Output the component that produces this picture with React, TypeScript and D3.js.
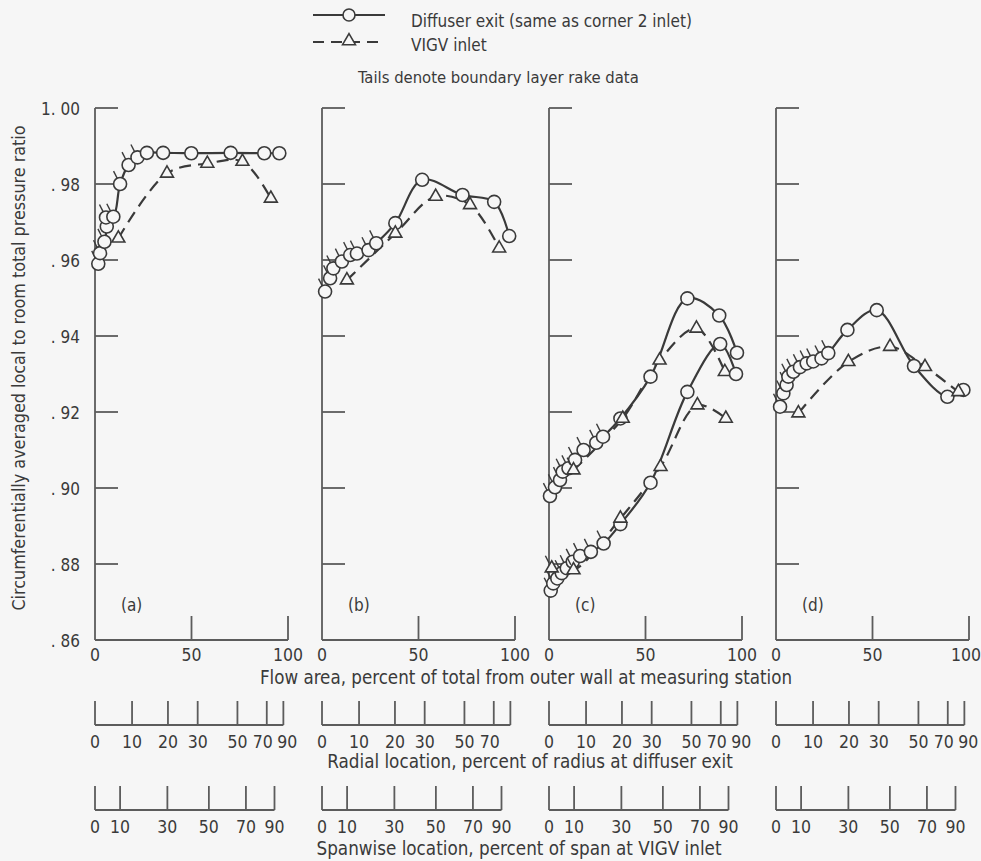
import * as d3 from 'd3';

const panelNames = ['(a)', '(b)', '(c)', '(d)'];

const yTicks = [1.0, 0.98, 0.96, 0.94, 0.92, 0.9, 0.88, 0.86];
const yTickLabels = ['1. 00', '. 98', '. 96', '. 94', '. 92', '. 90', '. 88', '. 86'];
const flowTicks = [0, 50, 100];

// secondary scales, placed at their flow-area percent
const radialTicks = [0, 19.2, 37.8, 53.2, 73.8, 89, 97.6];
const radialLabels = ['0', '10', '20', '30', '50', '70', '90'];
const radialLabelsB = ['0', '10', '20', '30', '50', '70', ''];
const radialNudge = [0, 0, 0, 0, 0, -4, 4];
const spanTicks = [0, 13, 37.5, 59, 78.2, 93];
const spanLabels = ['0', '10', '30', '50', '70', '90'];
const spanNudge = [0, 0, 0, 0, 0, 0];

// [flow area percent, pressure ratio]
const diffuserA = [[1.7, 0.959], [2.6, 0.9618], [4.9, 0.9648], [6.1, 0.9688], [5.7, 0.9712], [9.5, 0.9714], [13.0, 0.98], [17.4, 0.985], [22.0, 0.987], [26.9, 0.9882], [35.3, 0.9882], [49.9, 0.9881], [70.3, 0.9882], [87.7, 0.9881], [95.5, 0.9881]];
const vigvA = [[12.1, 0.9657], [37.3, 0.9828], [58.2, 0.9854], [76.4, 0.9859], [91.1, 0.9762]];

const diffuserB = [[1.6, 0.9517], [4.2, 0.9552], [5.9, 0.9578], [10.3, 0.9596], [14.6, 0.9613], [18.1, 0.9617], [24.1, 0.9626], [28.1, 0.9644], [38.0, 0.9697], [51.9, 0.9811], [72.8, 0.9771], [89.2, 0.9753], [97.0, 0.9663]];
const vigvB = [[12.9, 0.9547], [38.0, 0.967], [58.9, 0.9767], [76.7, 0.9745], [91.8, 0.9631]];

const diffuserC1 = [[0.5, 0.8979], [3.1, 0.9002], [5.7, 0.9021], [7.1, 0.9043], [10.1, 0.9052], [13.5, 0.9074], [17.9, 0.91], [24.5, 0.9119], [28.0, 0.9135], [37.0, 0.9183], [52.6, 0.9293], [71.7, 0.9499], [88.2, 0.9454], [97.4, 0.9356]];
const vigvC1 = [[12.7, 0.9047], [38.2, 0.9183], [57.3, 0.9336], [76.4, 0.942], [91.1, 0.9306]];
const diffuserC2 = [[0.9, 0.873], [2.2, 0.8749], [4.3, 0.8762], [6.6, 0.8776], [9.2, 0.8789], [12.3, 0.8806], [16.1, 0.8821], [21.7, 0.8832], [28.3, 0.8854], [37.0, 0.8905], [52.6, 0.9014], [71.7, 0.9253], [88.7, 0.9379], [96.9, 0.93]];
const vigvC2 = [[1.4, 0.8789], [12.7, 0.8784], [37.0, 0.892], [57.8, 0.9056], [76.9, 0.9218], [91.6, 0.9183]];

const diffuserD = [[2.1, 0.9214], [3.8, 0.9249], [5.5, 0.9271], [6.4, 0.9293], [9.0, 0.9306], [12.4, 0.9318], [15.9, 0.9328], [19.3, 0.9333], [23.6, 0.9341], [27.1, 0.9355], [37.0, 0.9416], [52.2, 0.9468], [71.5, 0.9321], [88.8, 0.924], [97.1, 0.9258]];
const vigvD = [[11.6, 0.9197], [37.5, 0.9332], [59.1, 0.9372], [77.2, 0.9319], [94.5, 0.9253]];

// series per panel; tails = how many leading points carry rake tails
const panelSeries = [
  [{ data: diffuserA, kind: 'circle', tails: 9 }, { data: vigvA, kind: 'tri', tails: 0 }],
  [{ data: diffuserB, kind: 'circle', tails: 8 }, { data: vigvB, kind: 'tri', tails: 0 }],
  [{ data: diffuserC1, kind: 'circle', tails: 9 }, { data: vigvC1, kind: 'tri', tails: 1 },
   { data: diffuserC2, kind: 'circle', tails: 9 }, { data: vigvC2, kind: 'tri', tails: 2 }],
  [{ data: diffuserD, kind: 'circle', tails: 10 }, { data: vigvD, kind: 'tri', tails: 0 }],
];

const W = 981;
const H = 861;
const BG = '#f6f6f6';
const INK = '#3a3a3a';
const AXIS = '#5c5c5c';
const FONT = "'DejaVu Sans Condensed', 'Liberation Sans Narrow', 'DejaVu Sans', sans-serif";

const plotTop = 108;
const plotBottom = 640;
const firstLeft = 95;
const panelStep = 227;
const panelW = 193;
const tickLen = 23;
const R = 6.5;

const y = d3.scaleLinear().domain([0.86, 1.0]).range([plotBottom, plotTop]);
const triPath = d3.symbol(d3.symbolTriangle, 72)();

function Tail({ cx, cy, r }: { cx: number; cy: number; r: number }) {
  const dx = -0.45;
  const dy = -0.89;
  return (
    <line x1={cx + dx * r} y1={cy + dy * r} x2={cx + dx * (r + 8)} y2={cy + dy * (r + 8)}
      stroke={INK} strokeWidth={1.4} />
  );
}

function Panel({ index }: { index: number }) {
  const left = firstLeft + index * panelStep;
  const x = d3.scaleLinear().domain([0, 100]).range([left, left + panelW]);
  const line = d3.line<number[]>().x(d => x(d[0])).y(d => y(d[1])).curve(d3.curveCatmullRom.alpha(0.5));
  const series = panelSeries[index];
  const rLabels = index === 1 ? radialLabelsB : radialLabels;

  const scaleRow = (ticks: number[], labels: string[], nudge: number[], base: number, labelY: number) => (
    <g>
      <line x1={x(ticks[0])} x2={x(ticks[ticks.length - 1])} y1={base} y2={base} stroke={AXIS} strokeWidth={1.8} />
      {ticks.map((t, i) => (
        <g key={i}>
          <line x1={x(t)} x2={x(t)} y1={base} y2={base - 24} stroke={AXIS} strokeWidth={1.8} />
          <text x={x(t) + nudge[i]} y={labelY} textAnchor="middle" fontSize={17.5}>{labels[i]}</text>
        </g>
      ))}
    </g>
  );

  return (
    <g>
      {/* axes */}
      <line x1={left} x2={left} y1={plotTop} y2={plotBottom} stroke={AXIS} strokeWidth={1.8} />
      <line x1={left} x2={left + panelW} y1={plotBottom} y2={plotBottom} stroke={AXIS} strokeWidth={1.8} />
      {yTicks.slice(0, -1).map(t => (
        <line key={t} x1={left} x2={left + tickLen} y1={y(t)} y2={y(t)} stroke={AXIS} strokeWidth={1.8} />
      ))}
      {flowTicks.slice(1).map(t => (
        <line key={t} x1={x(t)} x2={x(t)} y1={plotBottom} y2={plotBottom - 24} stroke={AXIS} strokeWidth={1.8} />
      ))}
      {flowTicks.map(t => (
        <text key={t} x={Math.min(x(t), W - 15)} y={661} textAnchor="middle" fontSize={17.5}>{t}</text>
      ))}
      {index === 0 && yTicks.map((t, i) => (
        <text key={t} x={left - 15} y={y(t) + 7} textAnchor="end" fontSize={17}>{yTickLabels[i]}</text>
      ))}
      <text x={left + 26} y={611} fontSize={17}>{panelNames[index]}</text>

      {/* lines */}
      {series.map((s, i) => (
        <path key={i} d={line(s.data) ?? ''} fill="none" stroke={INK} strokeWidth={2.2}
          strokeDasharray={s.kind === 'tri' ? '12,7' : undefined} />
      ))}
      {/* markers */}
      {series.map((s, i) => (
        <g key={i}>
          {s.data.map((d, j) => {
            const cx = x(d[0]);
            const cy = y(d[1]);
            return (
              <g key={j}>
                {s.kind === 'circle'
                  ? <circle cx={cx} cy={cy} r={R} fill={BG} stroke={INK} strokeWidth={1.6} />
                  : <path d={triPath ?? ''} transform={`translate(${cx},${cy})`} fill={BG} stroke={INK} strokeWidth={1.6} />}
                {j < s.tails && <Tail cx={cx} cy={cy} r={s.kind === 'circle' ? R : 6} />}
              </g>
            );
          })}
        </g>
      ))}

      {scaleRow(radialTicks, rLabels, radialNudge, 725, 748)}
      {scaleRow(spanTicks, spanLabels, spanNudge, 810, 833)}
    </g>
  );
}

export default function App() {
  return (
    <svg width={W} height={H} style={{ position: 'absolute', left: 0, top: 0 }}
      fontFamily={FONT} fill={INK}>
      <rect width={W} height={H} fill={BG} />

      {/* legend */}
      <line x1={313} x2={385} y1={15} y2={15} stroke={INK} strokeWidth={2} />
      <circle cx={349} cy={15} r={6} fill={BG} stroke={INK} strokeWidth={1.6} />
      <text x={411} y={27} fontSize={17}>Diffuser exit (same as corner 2 inlet)</text>
      <line x1={313} x2={385} y1={42} y2={42} stroke={INK} strokeWidth={2} strokeDasharray="11,7" />
      <path d={triPath ?? ''} transform="translate(349,41)" fill={BG} stroke={INK} strokeWidth={1.6} />
      <text x={411} y={51} fontSize={17}>VIGV inlet</text>
      <text x={358} y={83} fontSize={16.5}>Tails denote boundary layer rake data</text>

      {panelNames.map((_, i) => <Panel key={i} index={i} />)}

      <text transform="translate(25,368) rotate(-90)" textAnchor="middle" fontSize={17.8}>
        Circumferentially averaged local to room total pressure ratio
      </text>
      <text x={526} y={684} textAnchor="middle" fontSize={18.6}>
        Flow area, percent of total from outer wall at measuring station
      </text>
      <text x={530} y={768} textAnchor="middle" fontSize={18.7}>
        Radial location, percent of radius at diffuser exit
      </text>
      <text x={519} y={855} textAnchor="middle" fontSize={18.7}>
        Spanwise location, percent of span at VIGV inlet
      </text>
    </svg>
  );
}
